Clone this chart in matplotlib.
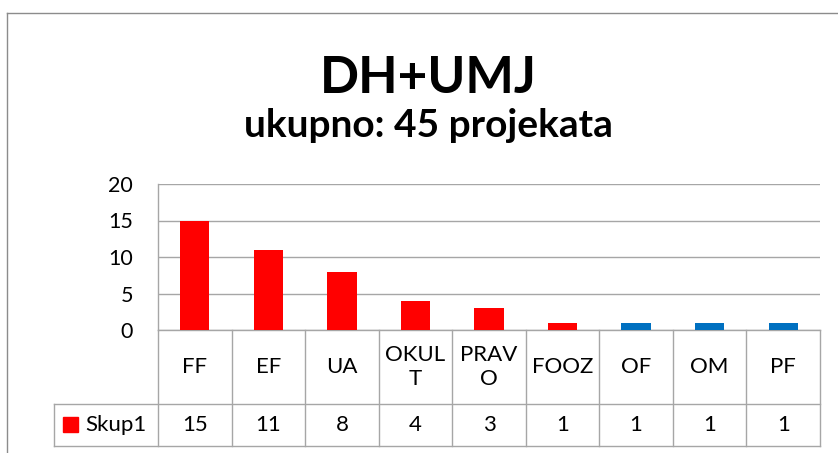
import matplotlib.pyplot as plt
from matplotlib.lines import Line2D
import matplotlib.transforms as mtransforms

categories = ['FF', 'EF', 'UA', 'OKUL\nT', 'PRAV\nO', 'FOOZ', 'OF', 'OM', 'PF']
values = [15, 11, 8, 4, 3, 1, 1, 1, 1]
bar_colors = ['#ff0000'] * 6 + ['#0070c0'] * 3
series_name = 'Skup1'
yticks = [0, 5, 10, 15, 20]

W, H = 838, 453
plt.rcParams['font.family'] = ['Lato', 'DejaVu Sans']
grid_col = '#a6a6a6'

fig = plt.figure(figsize=(W / 100, H / 100), dpi=100)

# plot area in pixel terms
left, right, top, zero = 158, 820, 184, 330
row1, row2 = 404, 446
legend_left = 54
ax = fig.add_axes([left / W, 1 - zero / H, (right - left) / W, (zero - top) / H])

x = range(len(categories))
ax.bar(x, values, width=0.4, color=bar_colors, zorder=3)
ax.set_xlim(-0.5, len(categories) - 0.5)
ax.set_ylim(0, 20)
ax.set_yticks(yticks)
ax.set_xticks([])
ax.tick_params(axis='y', length=0, pad=18, labelsize=15.5)
ax.grid(axis='y', color=grid_col, lw=1.0, zorder=0)
for s in ['top', 'right']:
    ax.spines[s].set_visible(False)
for s in ['left', 'bottom']:
    ax.spines[s].set_color(grid_col)
    ax.spines[s].set_linewidth(1.0)

# data table below the axis
def fy(py):
    return 1 - py / H

def fx(px):
    return px / W

blend = mtransforms.blended_transform_factory(ax.transData, fig.transFigure)
n = len(categories)
for i in range(n + 1):
    ax.add_artist(Line2D([i - 0.5, i - 0.5], [fy(zero), fy(row2)], color=grid_col,
                         lw=1.0, transform=blend, clip_on=False))
for py in (row1, row2):
    fig.add_artist(Line2D([fx(legend_left), fx(right)], [fy(py), fy(py)],
                          color=grid_col, lw=1.0))
fig.add_artist(Line2D([fx(legend_left), fx(legend_left)], [fy(row1), fy(row2)],
                      color=grid_col, lw=1.0))

for i, (c, v) in enumerate(zip(categories, values)):
    ax.text(i, fy((zero + row1) / 2), c, transform=blend, ha='center', va='center',
            fontsize=16, linespacing=1.3)
    ax.text(i, fy((row1 + row2) / 2), str(v), transform=blend, ha='center',
            va='center', fontsize=16)

# legend key in the table
fig.patches.append(plt.Rectangle((fx(63), fy(432)), 15 / W, 15 / H,
                                 color=bar_colors[0], transform=fig.transFigure))
fig.text(fx(85), fy((row1 + row2) / 2), series_name, ha='left', va='center',
         fontsize=16)

# titles
fig.text(fx(428), fy(93), 'DH+UMJ', ha='center', va='baseline', fontsize=37,
         fontweight='bold')
fig.text(fx(428), fy(137), 'ukupno: 45 projekata', ha='center', va='baseline',
         fontsize=28, fontweight='bold')

# chart frame
fig.add_artist(Line2D([fx(7), 1], [fy(13), fy(13)], color='#8c8c8c', lw=1.0))
fig.add_artist(Line2D([fx(7), fx(7)], [fy(13), 0], color='#8c8c8c', lw=1.0))

fig.savefig('out.png', dpi=100)
